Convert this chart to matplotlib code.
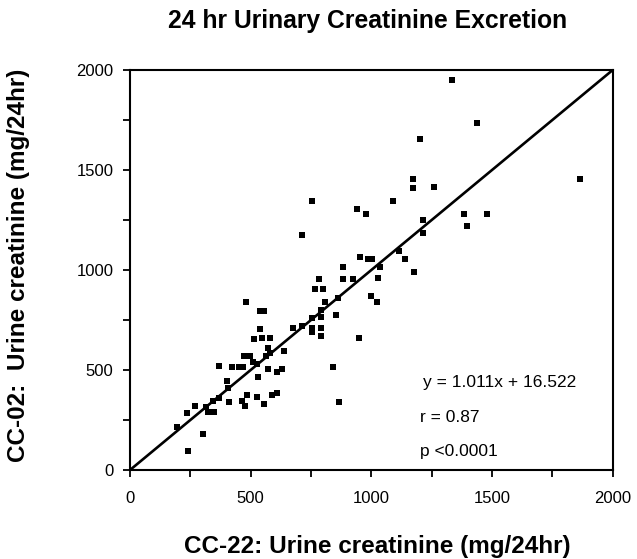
import matplotlib
matplotlib.use("Agg")
import matplotlib.pyplot as plt

plt.rcParams['font.family'] = ['Liberation Sans', 'DejaVu Sans']

cc22 = [1333, 1439, 1200, 1171, 1171, 1261, 1865, 753, 1091, 939, 977, 1385, 1478, 1395,
        713, 1215, 1215, 1115, 1139, 1178, 953, 988, 1004, 1036, 1029, 999, 1022, 884, 884,
        925, 783, 768, 801, 808, 791, 791, 755, 755, 755, 791, 791, 860, 855, 711, 677, 948,
        842, 865, 481, 539, 555, 539, 514, 546, 579, 638, 573, 562, 580, 472, 497, 508, 525,
        369, 424, 453, 467, 570, 608, 631, 532, 401, 405, 369, 345, 410, 463, 483, 476, 528,
        555, 587, 608, 269, 314, 322, 350, 238, 193, 301, 239]
cc02 = [1950, 1737, 1653, 1455, 1408, 1417, 1455, 1345, 1345, 1307, 1280, 1280, 1280, 1222,
        1175, 1250, 1187, 1095, 1053, 988, 1063, 1053, 1053, 1017, 962, 870, 842, 1013, 953,
        953, 953, 907, 907, 842, 800, 767, 758, 708, 688, 708, 672, 862, 775, 722, 708, 662,
        513, 338, 842, 795, 795, 703, 653, 662, 662, 597, 608, 572, 583, 572, 572, 542, 530,
        522, 513, 513, 513, 503, 492, 503, 467, 447, 412, 362, 347, 338, 347, 375, 320, 363,
        328, 375, 383, 320, 317, 292, 292, 283, 217, 178, 95]

ticks = [0, 500, 1000, 1500, 2000]
minor_ticks = [0, 250, 500, 750, 1000, 1250, 1500, 1750, 2000]
line_x = [0, 2000]
line_y = [0, 2000]

fig = plt.figure(figsize=(6.37, 5.59), dpi=100)
ax = fig.add_axes([130 / 637, 1 - 470 / 559, 482.7 / 637, 400 / 559])
ax.scatter(cc22, cc02, marker='s', s=16, color='black', linewidths=0, zorder=3)
ax.plot(line_x, line_y, color='black', lw=1.9, zorder=2, solid_capstyle='butt')
ax.set_xlim(0, 2000)
ax.set_ylim(0, 2000)
ax.set_xticks(ticks)
ax.set_yticks(ticks)
ax.set_xticks(minor_ticks, minor=True)
ax.set_yticks(minor_ticks, minor=True)
ax.tick_params(which='both', direction='out', top=False, right=False, labelsize=12)
ax.tick_params(which='both', length=5, width=1.3)
ax.tick_params(axis='x', which='major', pad=10)
ax.tick_params(axis='y', which='major', pad=7)
for s in ax.spines.values():
    s.set_linewidth(1.5)

ann_kw = dict(transform=ax.transAxes, fontsize=12.5, va='center', ha='left')
ax.text(0.607, 0.2175, "y = 1.011x + 16.522", **ann_kw)
ax.text(0.60, 0.1325, "r = 0.87", **ann_kw)
ax.text(0.60, 0.047, "p <0.0001", **ann_kw)

fig.text(368 / 637, 1 - 21 / 559, "24 hr Urinary Creatinine Excretion", ha='center', va='center',
         fontsize=17.8, fontweight='bold')
fig.text(377 / 637, 1 - 547 / 559, "CC-22: Urine creatinine (mg/24hr)", ha='center', va='center',
         fontsize=17.5, fontweight='bold')
fig.text(19 / 637, 1 - 265 / 559, "CC-02:  Urine creatinine (mg/24hr)", ha='center', va='center',
         rotation=90, fontsize=17.5, fontweight='bold')

fig.savefig("out.png", dpi=100)
